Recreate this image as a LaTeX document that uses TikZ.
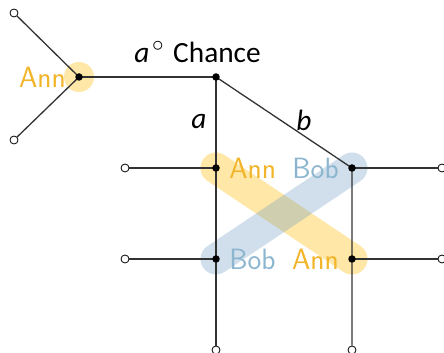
\documentclass[tikz,border=0pt]{standalone}
\usepackage{fontspec}
\newfontfamily\calfont{Carlito}
\definecolor{annc}{RGB}{242,180,40}
\definecolor{bobc}{RGB}{140,182,208}
\definecolor{bando}{RGB}{252,186,3}
\definecolor{bandb}{RGB}{100,150,190}
\definecolor{edgec}{RGB}{50,50,50}
\begin{document}
\begin{tikzpicture}[x=0.75pt,y=-0.75pt,
  dec/.style={circle,fill=black,inner sep=0pt,minimum size=7.5pt*0.75},
  leaf/.style={circle,draw=black,fill=white,line width=0.8pt*0.75,inner sep=0pt,minimum size=8pt*0.75},
  edge/.style={draw=edgec,line width=1.3pt*0.75},
  obandstyle/.style={line width=31pt*0.75,line cap=round,draw=bando,draw opacity=0.35},
  bbandstyle/.style={line width=31pt*0.75,line cap=round,draw=bandb,draw opacity=0.3},
  lbl/.style={inner sep=0pt,font=\fontsize{22}{26}\selectfont\sffamily},
  clbl/.style={inner sep=0pt,font=\fontsize{22}{26}\selectfont\calfont}]
\useasboundingbox (0,0) rectangle (444,353);
% coordinates
\coordinate (ann) at (79,77);
\coordinate (ch) at (216,77);
\coordinate (a1) at (216,168);
\coordinate (b1) at (216,259);
\coordinate (r1) at (352,168);
\coordinate (r2) at (352,259);
% highlights
\fill[bando,fill opacity=0.35] (ann) circle (15);
\draw[obandstyle] (a1) -- (r2);
\draw[bbandstyle] (b1) -- (r1);
% leaves
\node[leaf] (l1) at (14,13) {};
\node[leaf] (l2) at (14,140) {};
\node[leaf] (l3) at (125,168) {};
\node[leaf] (l4) at (125,259) {};
\node[leaf] (l5) at (442,168) {};
\node[leaf] (l6) at (442,259) {};
\node[leaf] (l7) at (216,350) {};
\node[leaf] (l8) at (352,350) {};
% edges
\draw[edge] (ann) -- (l1);
\draw[edge] (ann) -- (l2);
\draw[edge] (ann) -- (ch);
\draw[edge] (ch) -- (a1) -- (b1) -- (l7);
\draw[edge] (ch) -- (r1) -- (r2) -- (l8);
\draw[edge] (a1) -- (l3);
\draw[edge] (b1) -- (l4);
\draw[edge] (r1) -- (l5);
\draw[edge] (r2) -- (l6);
% decision nodes
\node[dec] (nann) at (ann) {};
\node[dec] (nch) at (ch) {};
\node[dec] (na1) at (a1) {};
\node[dec] (nb1) at (b1) {};
\node[dec] (nr1) at (r1) {};
\node[dec] (nr2) at (r2) {};
% labels
\node[lbl,text=annc,anchor=east] (tann) at (66,77) {Ann};
\node[clbl,anchor=base] (tach) at (217,63) {Chance};
\node[clbl,anchor=base west] (tao) at (134,63) {{\itshape a}\kern2pt\raisebox{0.8ex}{\fontsize{16}{16}\selectfont$\circ$}};
\node[clbl,anchor=base] (ta) at (199,129) {\itshape a};
\node[clbl,anchor=base] (tb) at (304,131) {\itshape b};
\node[lbl,text=annc,anchor=west] (t1) at (229,168) {Ann};
\node[lbl,text=bobc,anchor=east] (t2) at (339,168) {Bob};
\node[lbl,text=bobc,anchor=west] (t3) at (229,259) {Bob};
\node[lbl,text=annc,anchor=east] (t4) at (339,259) {Ann};
\end{tikzpicture}
\end{document}
